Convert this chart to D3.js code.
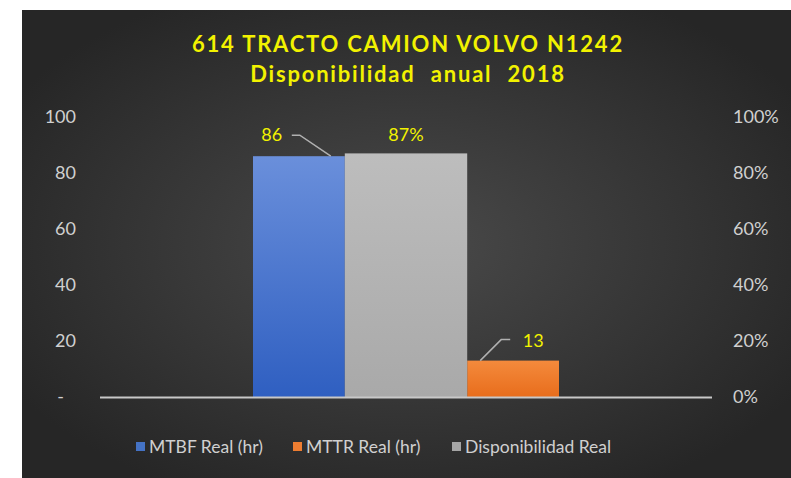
<!DOCTYPE html>
<html>
<head>
<meta charset="utf-8">
<script src="https://cdn.jsdelivr.net/npm/d3@7"></script>
<style>
  body { margin: 0; background: #ffffff; }
  svg { display: block; }
</style>
</head>
<body>
<div id="wrapper"></div>
<script>
// data
const seriesNames = ["MTBF Real (hr)", "MTTR Real (hr)", "Disponibilidad Real"];
const barOrder = ["MTBF Real (hr)", "Disponibilidad Real", "MTTR Real (hr)"];
const primaryValues = [86, 13];          // MTBF, MTTR (hours)
const secondaryValues = [0.87];          // Disponibilidad
const leftTicks = [0, 20, 40, 60, 80, 100];
const leftTickLabels = ["-", "20", "40", "60", "80", "100"];
const rightTicks = [0, 0.2, 0.4, 0.6, 0.8, 1];
const titleLines = ["614 TRACTO CAMION VOLVO N1242", "Disponibilidad anual 2018"];

const colors = {
  "MTBF Real (hr)": ["#6a8fdb", "#2f5fc1"],
  "MTTR Real (hr)": ["#f48a3c", "#e86d1c"],
  "Disponibilidad Real": ["#bdbdbd", "#a9a9a9"]
};
const legendColors = {
  "MTBF Real (hr)": "#4472c4",
  "MTTR Real (hr)": "#ed7d31",
  "Disponibilidad Real": "#a5a5a5"
};

const dims = {
  width: 791,
  height: 478,
  margins: { top: 117, right: 79, bottom: 81, left: 100 }
};
dims.boundedWidth = dims.width - dims.margins.left - dims.margins.right;
dims.boundedHeight = dims.height - dims.margins.top - dims.margins.bottom;

const svg = d3.select("#wrapper")
  .append("svg")
    .attr("width", dims.width)
    .attr("height", dims.height);

const defs = svg.append("defs");

const bg = defs.append("radialGradient")
  .attr("id", "bg")
  .attr("cx", "50%").attr("cy", "50%").attr("r", "60%");
bg.append("stop").attr("offset", "0%").attr("stop-color", "#4a4a4a");
bg.append("stop").attr("offset", "100%").attr("stop-color", "#262626");

seriesNames.forEach((s, i) => {
  const g = defs.append("linearGradient")
    .attr("id", "grad" + i)
    .attr("x1", 0).attr("y1", 0).attr("x2", 0).attr("y2", 1);
  g.append("stop").attr("offset", "0%").attr("stop-color", colors[s][0]);
  g.append("stop").attr("offset", "100%").attr("stop-color", colors[s][1]);
});

svg.append("rect")
  .attr("x", 22).attr("y", 10)
  .attr("width", dims.width - 22).attr("height", dims.height - 10)
  .attr("fill", "url(#bg)");

// title
svg.selectAll(".title")
  .data(titleLines)
  .join("text")
    .attr("class", "title")
    .attr("x", 408)
    .attr("y", (d, i) => 52 + i * 30)
    .attr("text-anchor", "middle")
    .attr("fill", "#f2f200")
    .style("font-family", "Lato, 'Open Sans', sans-serif")
    .style("font-weight", "bold")
    .style("font-size", "22px")
    .style("letter-spacing", "1.8px")
    .style("word-spacing", (d, i) => i === 1 ? "8px" : "0px")
    .text(d => d);

const bounds = svg.append("g")
  .attr("transform", `translate(${dims.margins.left},${dims.margins.top})`);

// scales
const yLeft = d3.scaleLinear()
  .domain([0, 100])
  .range([dims.boundedHeight, 0]);

const yRight = d3.scaleLinear()
  .domain([0, 1])
  .range([dims.boundedHeight, 0]);

const xCat = d3.scaleBand()
  .domain(["2018"])
  .range([0, dims.boundedWidth])
  .padding(1 / 3);

const xSub = d3.scaleBand()
  .domain(barOrder)
  .range([0, xCat.bandwidth()]);

const bw = xSub.bandwidth();

// bars
const bars = [
  { name: seriesNames[0], value: primaryValues[0], y: yLeft },
  { name: seriesNames[1], value: primaryValues[1], y: yLeft },
  { name: seriesNames[2], value: secondaryValues[0], y: yRight }
];

function barX(d) {
  const x0 = xCat("2018") + xSub(d.name);
  if (d.name === "Disponibilidad Real") return x0 - bw * 0.1;
  if (d.name === "MTTR Real (hr)") return x0 + bw * 0.1;
  return x0;
}
function barW(d) {
  return d.name === "Disponibilidad Real" ? bw * 1.2 : bw * 0.9;
}

bounds.selectAll(".bar")
  .data(bars)
  .join("rect")
    .attr("class", "bar")
    .attr("x", barX)
    .attr("y", d => d.y(d.value))
    .attr("width", barW)
    .attr("height", d => dims.boundedHeight - d.y(d.value))
    .attr("fill", d => `url(#grad${seriesNames.indexOf(d.name)})`);

// baseline
bounds.append("line")
  .attr("x1", 0).attr("x2", dims.boundedWidth)
  .attr("y1", dims.boundedHeight + 0.5).attr("y2", dims.boundedHeight + 0.5)
  .attr("stroke", "#c8c8c8")
  .attr("stroke-width", 2);

// axes
const tickStyle = sel => sel
  .style("font-family", "Lato, 'Open Sans', sans-serif")
  .style("font-size", "18px")
  .attr("fill", "#d0d0d0");

const leftAxis = bounds.append("g")
  .call(d3.axisLeft(yLeft)
    .tickValues(leftTicks)
    .tickFormat((d, i) => leftTickLabels[i])
    .tickSize(0)
    .tickPadding(24));
leftAxis.select(".domain").remove();
leftAxis.selectAll("text").call(tickStyle);
leftAxis.selectAll("text").filter(d => d === 0).attr("dx", -12);

const rightAxis = bounds.append("g")
  .attr("transform", `translate(${dims.boundedWidth},0)`)
  .call(d3.axisRight(yRight)
    .tickValues(rightTicks)
    .tickFormat(d3.format(".0%"))
    .tickSize(0)
    .tickPadding(21));
rightAxis.select(".domain").remove();
rightAxis.selectAll("text").call(tickStyle);

// data labels
const labelStyle = sel => sel
  .style("font-family", "Lato, 'Open Sans', sans-serif")
  .style("font-size", "18px")
  .attr("fill", "#f2f200");

const mtbf = bars[0], mttr = bars[1], disp = bars[2];

// MTBF label with leader line
const mtbfTop = yLeft(mtbf.value);
const mtbfRight = barX(mtbf) + barW(mtbf);
bounds.append("polyline")
  .attr("points", [
    [mtbfRight - 14, mtbfTop],
    [mtbfRight - 45, mtbfTop - 21],
    [mtbfRight - 53, mtbfTop - 21]
  ].join(" "))
  .attr("fill", "none")
  .attr("stroke", "#b0b0b0")
  .attr("stroke-width", 1.5);
bounds.append("text")
  .attr("x", mtbfRight - 73)
  .attr("y", mtbfTop - 15)
  .attr("text-anchor", "middle")
  .call(labelStyle)
  .text(mtbf.value);

// Disponibilidad label
bounds.append("text")
  .attr("x", barX(disp) + barW(disp) / 2)
  .attr("y", yRight(disp.value) - 12)
  .attr("text-anchor", "middle")
  .call(labelStyle)
  .text(d3.format(".0%")(disp.value));

// MTTR label with leader line
const mttrTop = yLeft(mttr.value);
const mttrLeft = barX(mttr);
bounds.append("polyline")
  .attr("points", [
    [mttrLeft + 13, mttrTop],
    [mttrLeft + 34, mttrTop - 21],
    [mttrLeft + 43, mttrTop - 21]
  ].join(" "))
  .attr("fill", "none")
  .attr("stroke", "#b0b0b0")
  .attr("stroke-width", 1.5);
bounds.append("text")
  .attr("x", mttrLeft + 66)
  .attr("y", mttrTop - 14)
  .attr("text-anchor", "middle")
  .call(labelStyle)
  .text(mttr.value);

// legend
const legendX = [136, 293, 452];
const legend = svg.append("g")
  .attr("transform", `translate(0, 447)`);

const items = legend.selectAll(".item")
  .data(seriesNames)
  .join("g")
    .attr("class", "item")
    .attr("transform", (d, i) => `translate(${legendX[i]},0)`);

items.append("rect")
  .attr("x", 0).attr("y", -5)
  .attr("width", 9).attr("height", 9)
  .attr("fill", d => legendColors[d]);

items.append("text")
  .attr("x", 13)
  .attr("y", 6)
  .style("font-family", "Lato, 'Open Sans', sans-serif")
  .style("font-size", "17.5px")
  .attr("fill", "#d0d0d0")
  .text(d => d);
</script>
</body>
</html>
